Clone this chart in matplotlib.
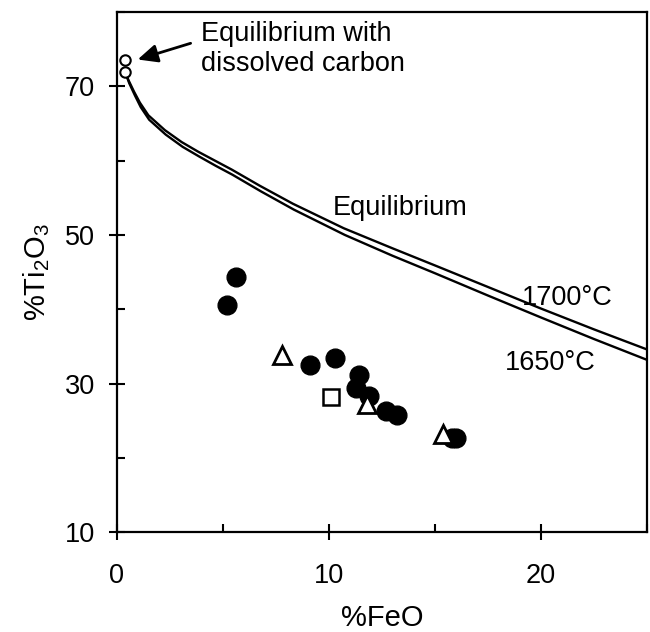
import numpy as np
import matplotlib
matplotlib.use("Agg")
import matplotlib.pyplot as plt
from matplotlib.ticker import MultipleLocator

plt.rcParams['font.family'] = ['Liberation Sans', 'DejaVu Sans']
plt.rcParams['mathtext.fontset'] = 'custom'
plt.rcParams['mathtext.rm'] = 'Liberation Sans'
plt.rcParams['mathtext.it'] = 'Liberation Sans:italic'

# equilibrium curves
x_1700 = [0.35, 0.53, 0.8, 1.08, 1.48, 2.26, 3.05, 3.83, 4.62, 5.41, 6.75, 8.3, 10.7, 13.0, 15.0, 17.5, 20.0, 22.5, 25.0]
y_1700 = [72.3, 70.9, 69.3, 67.8, 66.1, 64.1, 62.5, 61.2, 60.0, 58.8, 56.6, 54.2, 50.9, 48.2, 45.9, 43.0, 40.1, 37.3, 34.6]
x_1650 = [0.4, 0.58, 0.85, 1.12, 1.52, 2.3, 3.1, 3.88, 4.66, 5.45, 6.8, 8.35, 10.75, 13.0, 15.0, 17.5, 20.0, 22.5, 25.0]
y_1650 = [71.8, 70.4, 68.75, 67.2, 65.5, 63.5, 61.85, 60.55, 59.3, 58.1, 55.85, 53.4, 50.0, 47.2, 44.85, 41.85, 38.9, 36.0, 33.2]

# measured slags
fe_circ = [5.2, 5.6, 9.1, 10.3, 11.4, 11.3, 11.9, 12.7, 13.2, 15.8, 16.0]
ti_circ = [40.6, 44.4, 32.5, 33.5, 31.1, 29.4, 28.3, 26.3, 25.7, 22.7, 22.7]
fe_tri = [7.8, 11.8, 15.4]
ti_tri = [33.8, 27.2, 23.2]
fe_sq = [10.1]
ti_sq = [28.2]
# equilibrium with dissolved carbon
fe_open = [0.38, 0.38]
ti_open = [73.5, 71.9]

fig = plt.figure(figsize=(6.5, 6.32), dpi=100)
ax = fig.add_axes([0.18, 0.158, 0.815, 0.823])

ax.plot(x_1700, y_1700, color='black', lw=1.7)
ax.plot(x_1650, y_1650, color='black', lw=1.7)

ax.plot(fe_circ, ti_circ, 'o', color='black', ms=13.5, zorder=3)
ax.plot(fe_tri, ti_tri, '^', mfc='white', mec='black', mew=2, ms=12.5, zorder=4)
ax.plot(fe_sq, ti_sq, 's', mfc='white', mec='black', mew=1.8, ms=11.5, zorder=4)
ax.plot(fe_open, ti_open, 'o', mfc='white', mec='black', mew=1.5, ms=7.5, zorder=4)

ax.annotate('', xy=(0.85, 73.5), xytext=(3.6, 75.9),
            arrowprops=dict(arrowstyle='-|>,head_length=1.2,head_width=0.55',
                            color='black', lw=2))
ax.text(3.95, 78.8, 'Equilibrium with\ndissolved carbon', fontsize=19.5,
        ha='left', va='top', linespacing=1.2)
ax.text(10.2, 52.7, 'Equilibrium', fontsize=19.5, ha='left', va='baseline')
ax.text(19.1, 40.6, '1700°C', fontsize=19.5, ha='left', va='baseline')
ax.text(18.3, 31.8, '1650°C', fontsize=19.5, ha='left', va='baseline')

ax.set_xlim(0, 25)
ax.set_ylim(10, 80)
ax.xaxis.set_major_locator(MultipleLocator(10))
ax.xaxis.set_minor_locator(MultipleLocator(5))
ax.yaxis.set_minor_locator(MultipleLocator(10))
ax.set_yticks([10, 30, 50, 70])
ax.tick_params(which='major', direction='inout', length=12, width=1.5,
               labelsize=19.5, pad=10)
ax.tick_params(which='minor', direction='in', length=6, width=1.5)
ax.tick_params(axis='x', pad=16)
for s in ax.spines.values():
    s.set_linewidth(1.6)

ax.set_xlabel('%FeO', fontsize=21, labelpad=11)
ax.set_ylabel('%Ti$_2$O$_3$', fontsize=21, labelpad=9)

fig.savefig('out.png', dpi=100)
